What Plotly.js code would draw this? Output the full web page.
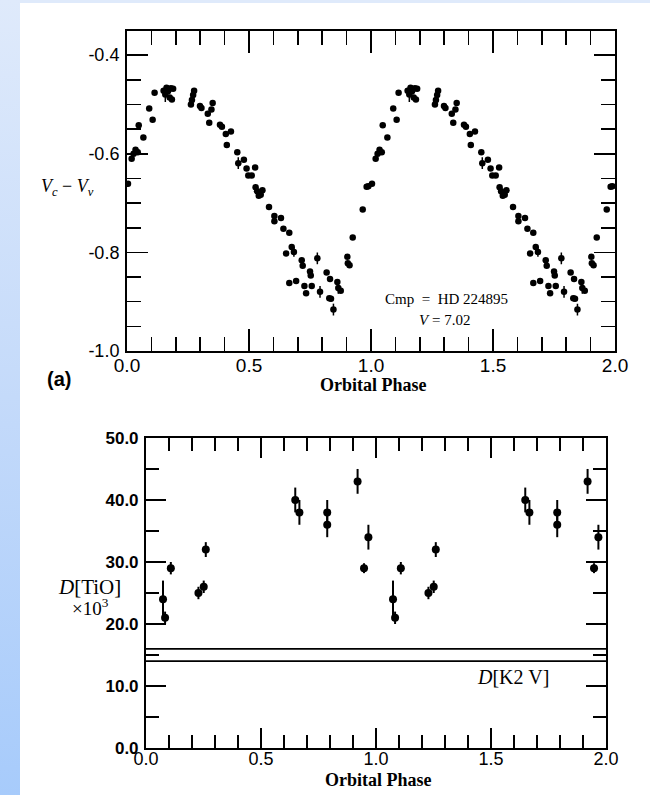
<!DOCTYPE html>
<html><head><meta charset="utf-8">
<script src="https://cdn.plot.ly/plotly-3.0.1.min.js"></script>
<style>
html,body{margin:0;padding:0;width:650px;height:795px;overflow:hidden;
background:
 linear-gradient(to bottom,#dfeafb 0%,#c4dafa 50%,#a7cbfb 100%) 0 0 / 20px 100% no-repeat,
 linear-gradient(#dfeafb,#dfeafb) 0 0 / 100% 3px no-repeat,
 #ffffff;}
#chart{position:absolute;left:0;top:0;width:650px;height:795px}
</style></head>
<body><div id="chart"></div>
<script>
// ---- Panel (a): V_c - V_v vs orbital phase (one cycle, plotted twice) ----
const phaseA = [0.004,0.019,0.027,0.035,0.044,0.048,0.067,0.091,0.105,0.113,
  0.150,0.157,0.162,0.168,0.175,0.180,0.184,0.189,0.262,0.266,
  0.271,0.275,0.299,0.305,0.331,0.337,0.346,0.351,0.381,0.389,
  0.405,0.409,0.426,0.452,0.456,0.479,0.490,0.497,0.511,0.525,
  0.527,0.533,0.540,0.548,0.555,0.582,0.604,0.604,0.631,0.641,
  0.665,0.652,0.675,0.684,0.716,0.720,0.780,0.750,0.753,0.665,
  0.693,0.727,0.734,0.757,0.791,0.818,0.832,0.829,0.836,0.846,
  0.862,0.866,0.876,0.903,0.905,0.912,0.925,0.966,0.982,0.989];
const vcMinusVv = [-0.661,-0.610,-0.600,-0.592,-0.597,-0.542,-0.567,-0.508,-0.531,-0.476,
  -0.472,-0.480,-0.466,-0.473,-0.486,-0.467,-0.490,-0.468,-0.500,-0.491,
  -0.481,-0.472,-0.503,-0.507,-0.519,-0.537,-0.510,-0.497,-0.541,-0.545,
  -0.560,-0.582,-0.555,-0.597,-0.619,-0.612,-0.630,-0.644,-0.644,-0.628,
  -0.668,-0.676,-0.685,-0.683,-0.674,-0.708,-0.726,-0.737,-0.730,-0.752,
  -0.760,-0.802,-0.789,-0.799,-0.816,-0.827,-0.812,-0.839,-0.847,-0.862,
  -0.858,-0.868,-0.883,-0.868,-0.880,-0.841,-0.854,-0.893,-0.894,-0.916,
  -0.860,-0.872,-0.878,-0.809,-0.822,-0.826,-0.770,-0.713,-0.667,-0.666];
const vcErr = [0,0,0,0,0,0,0,0,0,0, 0,0.015,0,0,0,0,0,0,0,0,
  0,0,0,0,0,0,0,0,0,0, 0,0,0,0,0.012,0,0,0,0,0,
  0,0,0,0,0,0,0,0,0,0, 0,0,0,0.010,0,0,0.012,0,0,0,
  0,0,0,0,0.012,0,0,0,0,0.012, 0,0.012,0,0,0,0,0,0,0,0];

// ---- Panel (b): D[TiO] x 10^3 vs orbital phase ----
const phaseB = [0.074,0.083,0.108,0.228,0.251,0.260,0.649,0.667,0.788,0.788,0.920,0.948,0.967];
const dTiO = [24,21,29,25,26,32,40,38,38,36,43,29,34];
const dTiOErr = [3,1,1,1,1,1.2,2,2,2,2,2,0.8,2];
const k2vLevels = [14,16];

// ---- tick labels ----
const aYTickVals = [-1.0,-0.8,-0.6,-0.4];
const aYTickText = ['-1.0','-0.8','-0.6','-0.4'];
const phaseTickVals = [0,0.5,1.0,1.5,2.0];
const phaseTickText = ['0.0','0.5','1.0','1.5','2.0'];
const bYTickVals = [0,10,20,30,40,50];
const bYTickText = ['0.0','10.0','20.0','30.0','40.0','50.0'];

const twoCycles = arr => arr.concat(arr.map(p => p + 1));
const sans = 'Liberation Sans, Arial, sans-serif';
const serif = 'Liberation Serif, Times New Roman, serif';

const traces = [
  {type:'scatter', mode:'markers', xaxis:'x', yaxis:'y',
   x: twoCycles(phaseA), y: vcMinusVv.concat(vcMinusVv),
   marker:{color:'black', size:6.5},
   error_y:{type:'data', array: vcErr.concat(vcErr), visible:true, width:0, thickness:1.5, color:'black'}},
  {type:'scatter', mode:'markers', xaxis:'x2', yaxis:'y2',
   x: twoCycles(phaseB), y: dTiO.concat(dTiO),
   marker:{color:'black', size:8},
   error_y:{type:'data', array: dTiOErr.concat(dTiOErr), visible:true, width:0, thickness:2, color:'black'}}
];
k2vLevels.forEach(lv => traces.push({type:'scatter', mode:'lines', xaxis:'x2', yaxis:'y2',
  x:[phaseTickVals[0], phaseTickVals[phaseTickVals.length-1]], y:[lv, lv],
  line:{color:'black', width:1.8}}));

const frame = {showline:true, linecolor:'black', linewidth:2, mirror:'ticks', ticks:'inside',
  tickcolor:'black', tickwidth:1.6, showgrid:false, zeroline:false};

function note(xref, yref, x, y, text, font){
  return {xref:xref, yref:yref, x:x, y:y, text:text, showarrow:false,
          xanchor:'center', yanchor:'middle', font:font};
}

const layout = {
  width:650, height:795, margin:{l:0,r:0,t:0,b:0},
  paper_bgcolor:'rgba(0,0,0,0)', plot_bgcolor:'white', showlegend:false,
  xaxis: Object.assign({}, frame, {domain:[0.1954,0.9462], anchor:'y', range:[0,2],
    tickmode:'array', tickvals:phaseTickVals, ticktext:phaseTickText, ticklen:22,
    tickfont:{family:sans, size:19, color:'black'}, ticklabelstandoff:-4,
    minor:{dtick:0.1, tick0:0, ticklen:14, tickwidth:1.6, tickcolor:'black', ticks:'inside'}}),
  yaxis: Object.assign({}, frame, {domain:[0.5585,0.9616], anchor:'x', range:[-1.0,-0.35],
    tickmode:'array', tickvals:aYTickVals, ticktext:aYTickText, ticklen:21,
    tickfont:{family:sans, size:18, color:'black'}, ticklabelstandoff:2,
    minor:{dtick:0.05, tick0:-1, ticklen:14, tickwidth:1.6, tickcolor:'black', ticks:'inside'}}),
  xaxis2: Object.assign({}, frame, {domain:[0.2246,0.9323], anchor:'y2', range:[0,2],
    tickmode:'array', tickvals:phaseTickVals, ticktext:phaseTickText, ticklen:20,
    tickfont:{family:sans, size:18, color:'black'}, ticklabelstandoff:-7,
    minor:{dtick:0.1, tick0:0, ticklen:13, tickwidth:1.6, tickcolor:'black', ticks:'inside'}}),
  yaxis2: Object.assign({}, frame, {domain:[0.0591,0.4491], anchor:'x2', range:[0,50],
    tickmode:'array', tickvals:bYTickVals, ticktext:bYTickText, ticklen:20,
    tickfont:{family:sans, size:17, color:'black', weight:'bold'}, ticklabelstandoff:2,
    minor:{dtick:5, tick0:0, ticklen:13, tickwidth:1.6, tickcolor:'black', ticks:'inside'}}),
  annotations:[
    note('paper','paper', 373/650, 1-385/795, '<b>Orbital Phase</b>', {family:serif, size:18, color:'black'}),
    note('paper','paper', 378/650, 1-780/795, '<b>Orbital Phase</b>', {family:serif, size:18, color:'black'}),
    note('paper','paper', 59/650, 1-379/795, '<b>(a)</b>', {family:sans, size:20, color:'black'}),
    note('paper','paper', 67/650, 1-188/795, '<i>V<sub>c</sub></i> − <i>V<sub>v</sub></i>', {family:serif, size:18, color:'black'}),
    note('paper','paper', 89/650, 1-587/795, '<i>D</i>[TiO]', {family:serif, size:21, color:'black'}),
    note('paper','paper', 90/650, 1-607/795, '×10<sup>3</sup>', {family:serif, size:19, color:'black'}),
    note('x2','y2', 1.597, 11.5, '<i>D</i>[K2 V]', {family:serif, size:20, color:'black'}),
    note('x','y', 1.31, -0.895, 'Cmp\u00a0\u00a0=\u00a0\u00a0HD 224895', {family:serif, size:15, color:'black'}),
    note('x','y', 1.303, -0.937, '<i>V</i> = 7.02', {family:serif, size:15, color:'black'})
  ]
};
Plotly.newPlot('chart', traces, layout, {displayModeBar:false, staticPlot:true});
</script></body></html>
